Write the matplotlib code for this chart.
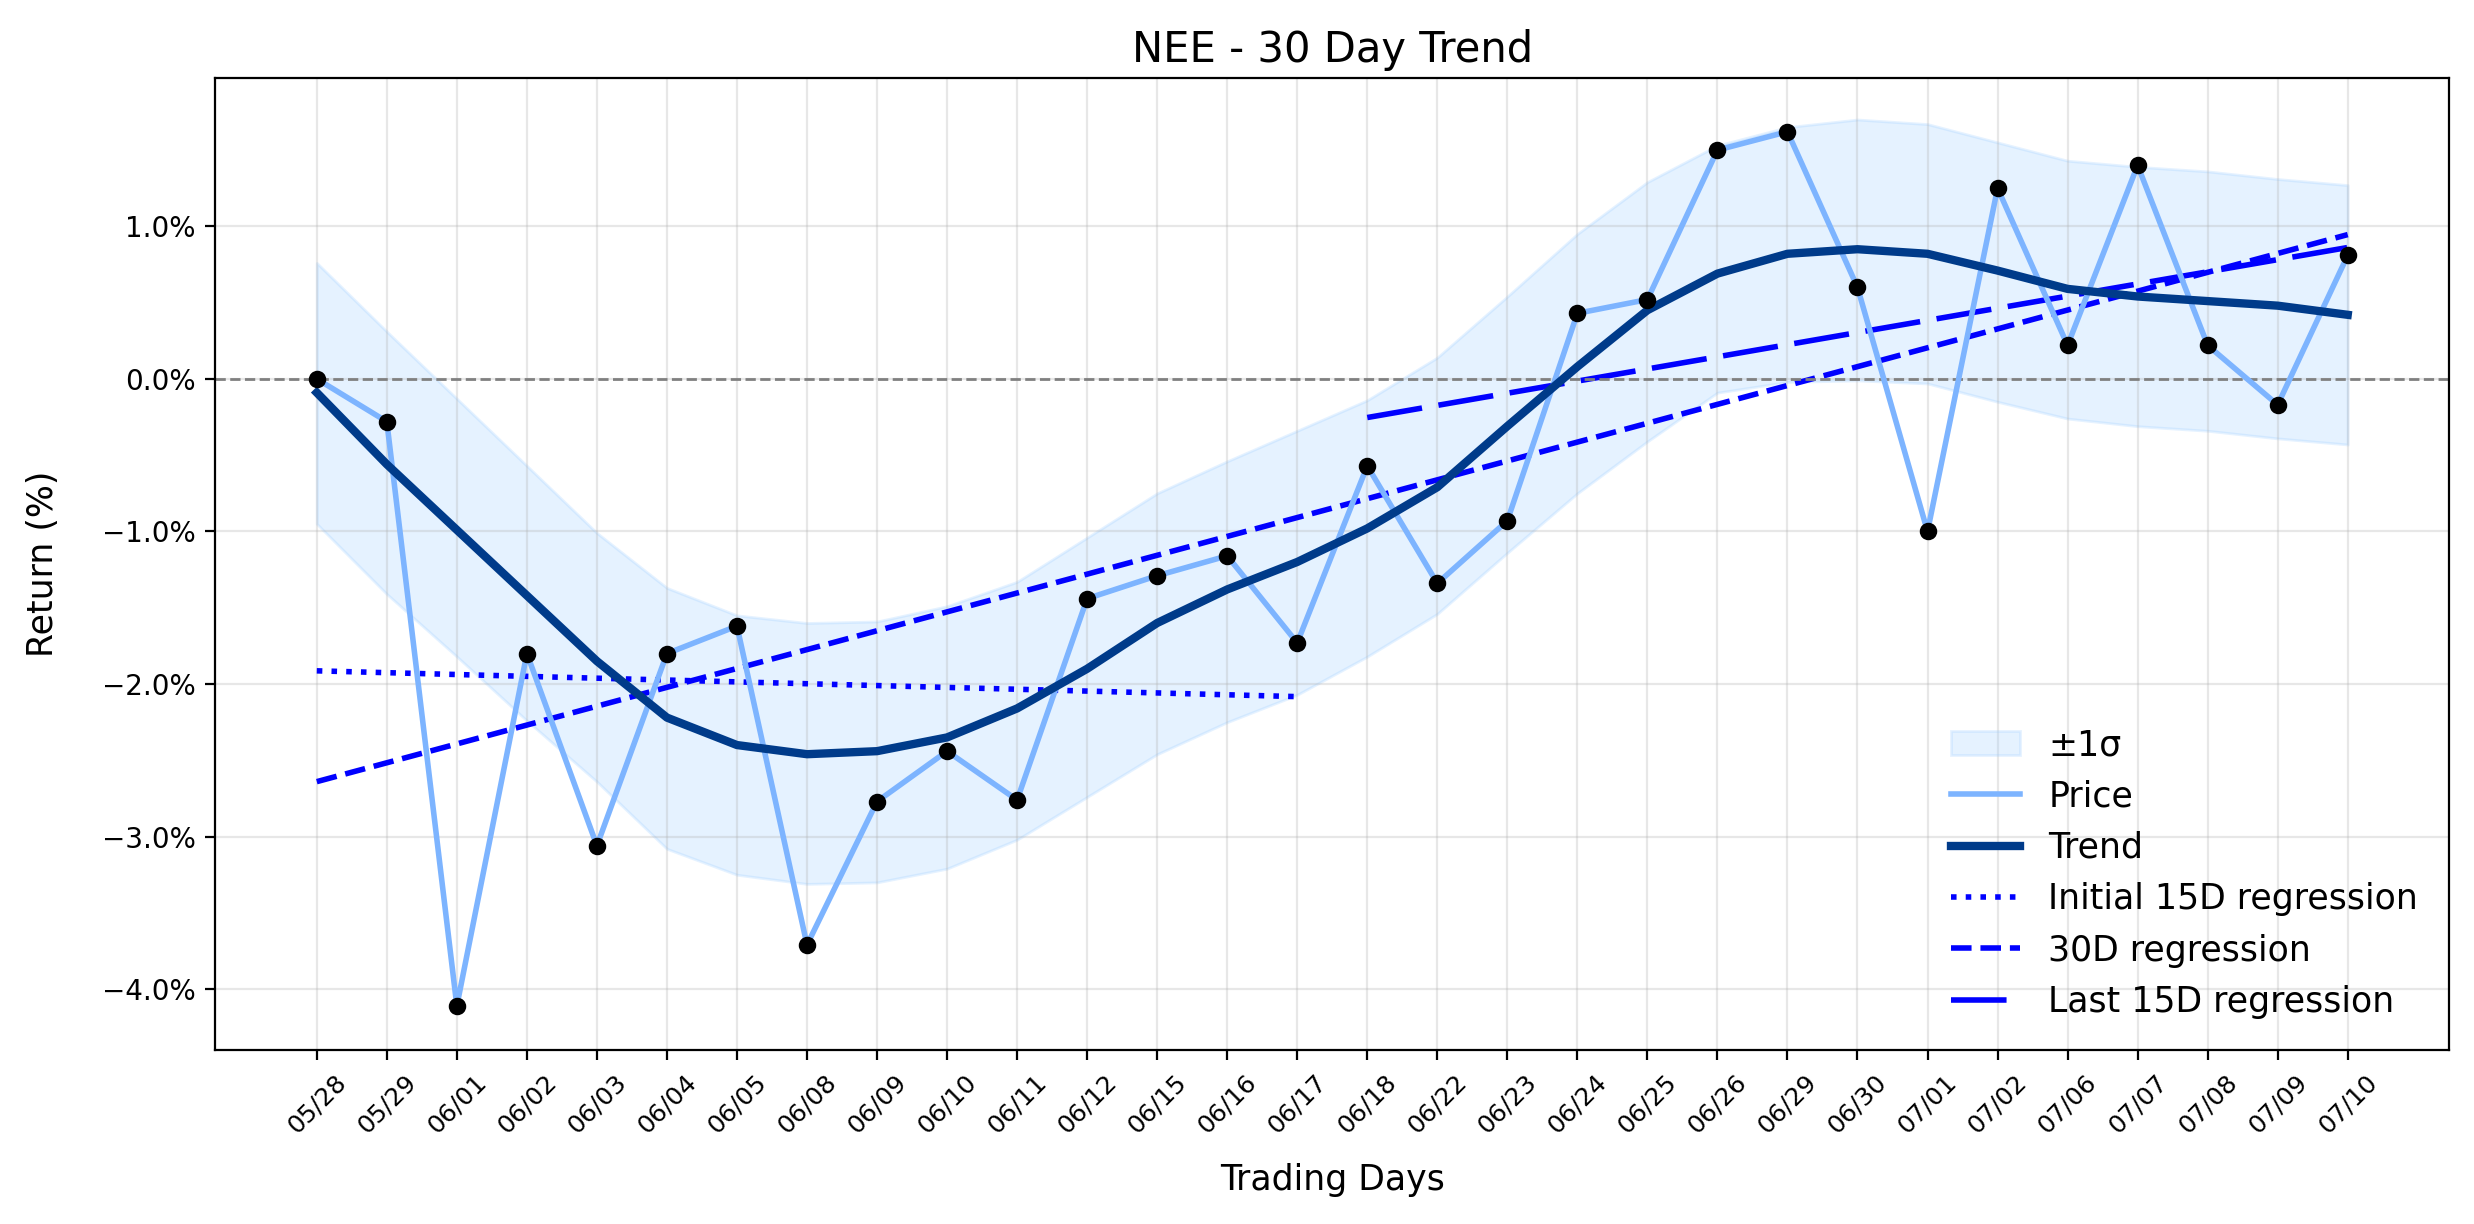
"""
NEE 30 day trend chart: daily return, smoothed trend, +/-1 sigma band
and three linear regressions.
"""

import matplotlib
matplotlib.use('Agg')
import matplotlib.pyplot as plt
import numpy as np
from matplotlib.ticker import PercentFormatter

# --- data (return in %) ---
dates = ['05/28', '05/29', '06/01', '06/02', '06/03', '06/04', '06/05', '06/08',
         '06/09', '06/10', '06/11', '06/12', '06/15', '06/16', '06/17', '06/18',
         '06/22', '06/23', '06/24', '06/25', '06/26', '06/29', '06/30', '07/01',
         '07/02', '07/06', '07/07', '07/08', '07/09', '07/10']

price = [0.00, -0.28, -4.11, -1.80, -3.06, -1.80, -1.62, -3.71, -2.77, -2.44,
         -2.76, -1.44, -1.29, -1.16, -1.73, -0.57, -1.34, -0.93, 0.43, 0.52,
         1.50, 1.62, 0.60, -1.00, 1.25, 0.22, 1.40, 0.22, -0.17, 0.81]

trend = [-0.09, -0.56, -0.99, -1.42, -1.85, -2.22, -2.40, -2.46, -2.44, -2.35,
         -2.16, -1.90, -1.60, -1.38, -1.20, -0.98, -0.71, -0.31, 0.08, 0.45,
         0.69, 0.82, 0.85, 0.82, 0.71, 0.59, 0.54, 0.51, 0.48, 0.42]

band_upper = [0.76, 0.31, -0.13, -0.57, -1.01, -1.37, -1.55, -1.60, -1.59, -1.49,
              -1.33, -1.04, -0.75, -0.54, -0.34, -0.14, 0.14, 0.54, 0.95, 1.29,
              1.53, 1.65, 1.70, 1.67, 1.55, 1.43, 1.39, 1.36, 1.31, 1.27]

band_lower = [-0.95, -1.41, -1.82, -2.24, -2.64, -3.08, -3.25, -3.31, -3.30, -3.21,
              -3.02, -2.74, -2.46, -2.25, -2.07, -1.82, -1.54, -1.14, -0.75, -0.41,
              -0.09, -0.02, -0.01, -0.03, -0.15, -0.26, -0.31, -0.34, -0.39, -0.43]


def regression(x, y):
    """Least squares line evaluated on x."""
    slope, intercept = np.polyfit(x, y, 1)
    return slope * x + intercept


x = np.arange(len(dates))
y = np.array(price)

fig, ax = plt.subplots(figsize=(12.37, 6.12), dpi=200)

ax.fill_between(x, band_lower, band_upper, color='#99ccff', alpha=0.25, label='±1σ')
ax.plot(x, price, color='#7db4ff', linewidth=2, label='Price', zorder=3)
ax.plot(x, trend, color='#003b8a', linewidth=3, label='Trend', zorder=4)
ax.scatter(x, price, color='black', s=28, zorder=5)

# regressions
ax.plot(x[:15], regression(x[:15], y[:15]), color='blue', linestyle=':',
        linewidth=2, label='Initial 15D regression')
ax.plot(x, regression(x, y), color='blue', linestyle='--',
        linewidth=2, label='30D regression')
ax.plot(x[15:], regression(x[15:], y[15:]), color='blue', linestyle=(0, (10, 3)),
        linewidth=2, label='Last 15D regression')

ax.axhline(0, color='gray', linestyle='--', linewidth=1)

ax.set_title('NEE - 30 Day Trend', fontsize=15)
ax.set_xlabel('Trading Days', fontsize=12.5, labelpad=9)
ax.set_ylabel('Return (%)', fontsize=12.5, labelpad=15)
ax.set_xticks(x)
ax.set_xticklabels(dates, rotation=45, fontsize=9)
ax.yaxis.set_major_formatter(PercentFormatter(xmax=100, decimals=1))
ax.set_ylim(-4.40, 1.97)
ax.grid(True, alpha=0.3)
ax.legend(loc='lower right', frameon=False, fontsize=12.5)

plt.subplots_adjust(left=0.087, right=0.990, top=0.936, bottom=0.142)
fig.savefig('out.png', dpi=200)
